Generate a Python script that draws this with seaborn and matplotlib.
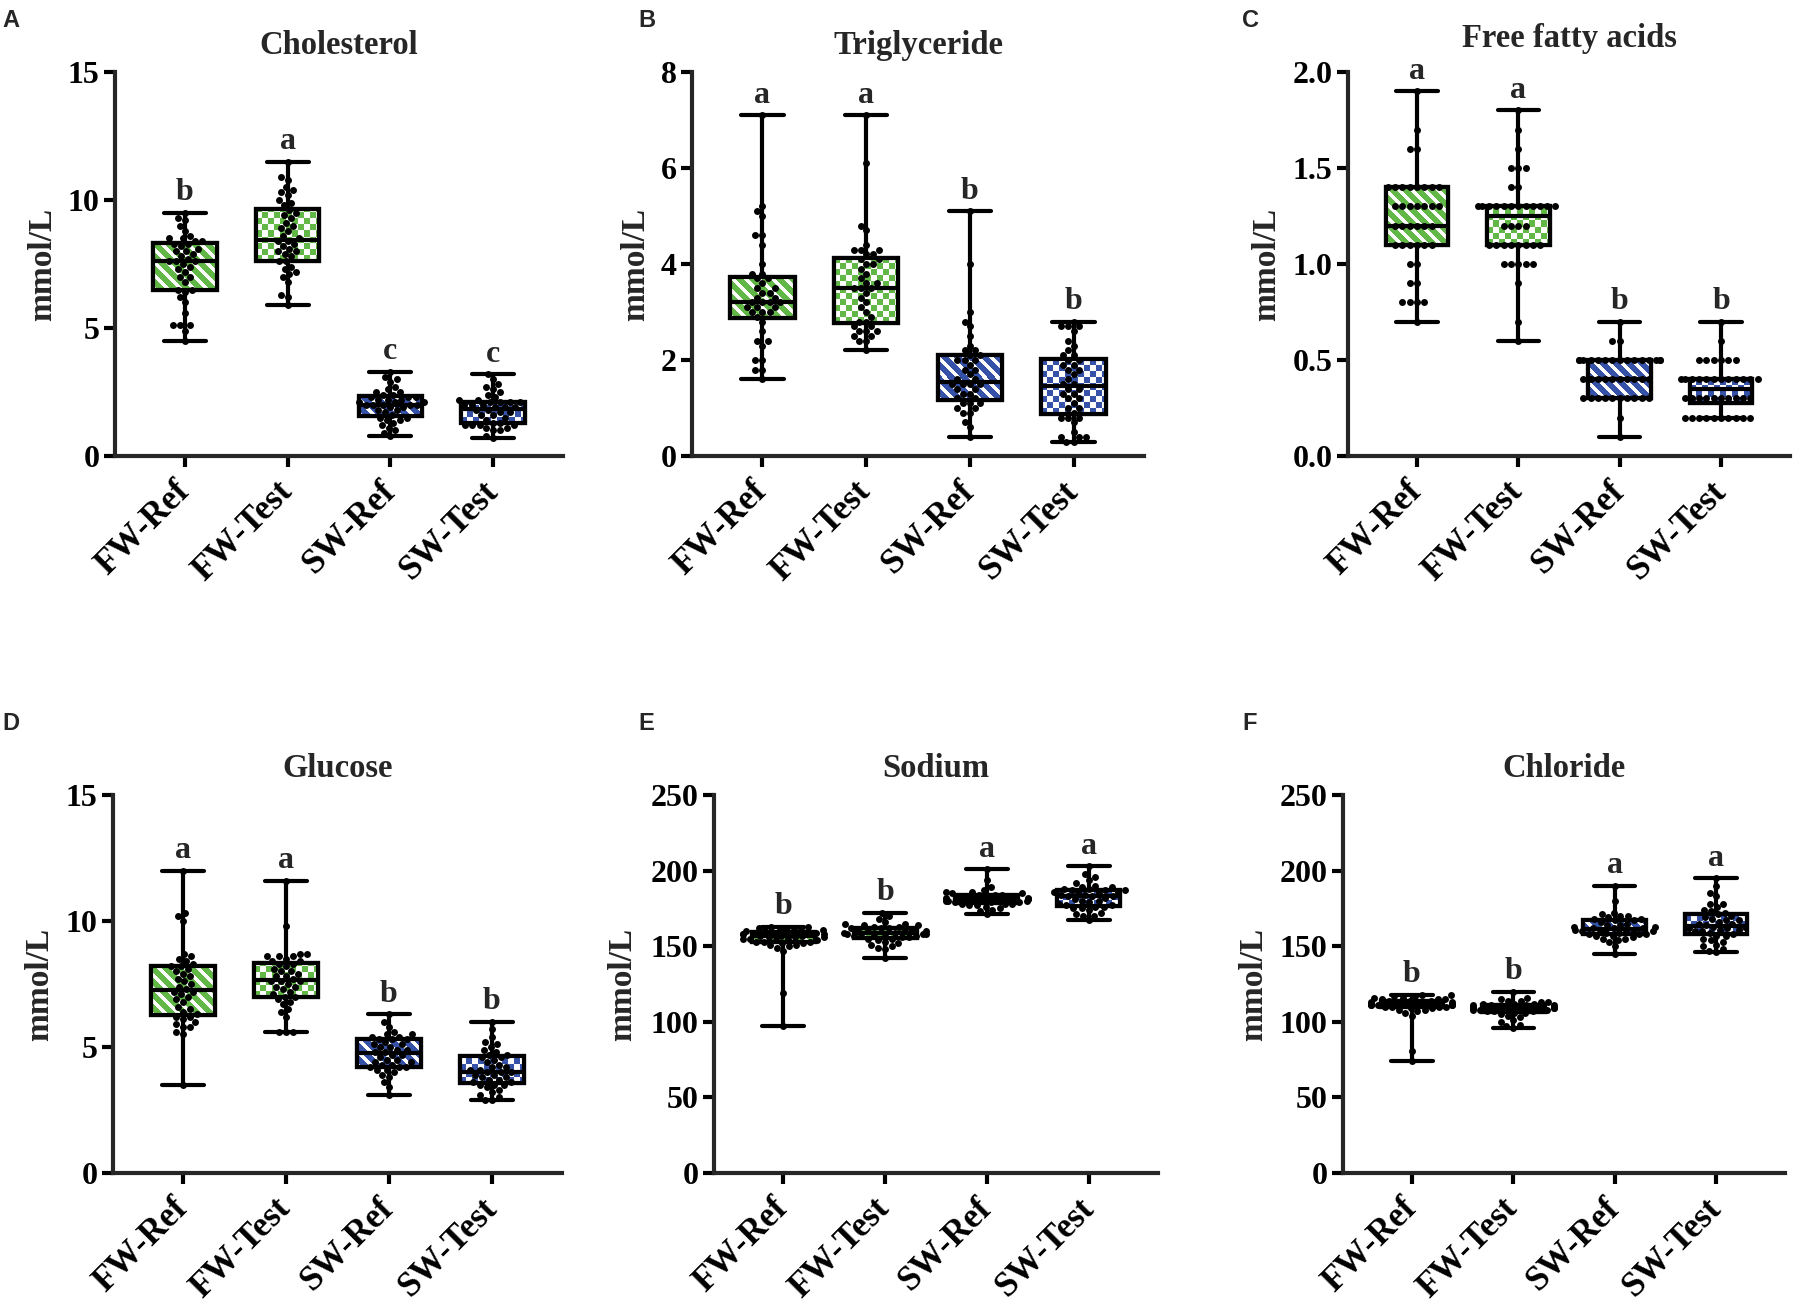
import numpy as np
import pandas as pd
import matplotlib
matplotlib.use("Agg")
import matplotlib.pyplot as plt
import seaborn as sns
from matplotlib.patches import PathPatch
from matplotlib.colors import ListedColormap
import warnings
warnings.filterwarnings("ignore")

# ---------------- data ----------------
groups = ["FW-Ref", "FW-Test", "SW-Ref", "SW-Test"]
GREEN = "#62b847"
BLUE = "#3552a8"
box_colors = [GREEN, GREEN, BLUE, BLUE]
patterns = ["stripe", "checker", "stripe", "checker"]

chol_fw_ref = [4.5, 4.9, 5.1, 5.1, 5.1, 5.6, 6.0, 6.2, 6.4, 6.5, 6.5, 6.8, 7.0, 7.0, 7.2, 7.3, 7.4, 7.5, 7.6, 7.6,
               7.6, 7.7, 7.8, 7.9, 8.0, 8.0, 8.1, 8.2, 8.3, 8.3, 8.4, 8.4, 8.5, 8.5, 8.6, 8.8, 9.0, 9.2, 9.3, 9.5]
chol_fw_test = [5.9, 6.2, 6.3, 6.8, 7.0, 7.1, 7.2, 7.3, 7.4, 7.6, 7.6, 7.8, 7.9, 8.0, 8.0, 8.1, 8.2, 8.3, 8.4, 8.4,
                8.5, 8.6, 8.8, 8.9, 9.0, 9.1, 9.3, 9.4, 9.5, 9.6, 9.8, 9.9, 10.0, 10.2, 10.3, 10.4, 10.5, 10.8, 10.9, 11.5]
chol_sw_ref = [0.8, 0.9, 1.0, 1.1, 1.2, 1.3, 1.4, 1.4, 1.5, 1.5, 1.6, 1.7, 1.8, 1.8, 1.9, 1.9, 2.0, 2.0, 2.0, 2.0,
               2.0, 2.1, 2.1, 2.1, 2.2, 2.2, 2.2, 2.3, 2.3, 2.3, 2.4, 2.4, 2.5, 2.5, 2.6, 2.7, 2.9, 3.0, 3.1, 3.3]
chol_sw_test = [0.7, 0.8, 1.0, 1.0, 1.1, 1.1, 1.2, 1.2, 1.2, 1.2, 1.3, 1.3, 1.4, 1.5, 1.6, 1.6, 1.7, 1.7, 1.8, 1.8,
                1.9, 1.9, 1.9, 2.0, 2.0, 2.0, 2.1, 2.1, 2.1, 2.1, 2.2, 2.2, 2.3, 2.4, 2.5, 2.6, 2.7, 2.8, 3.0, 3.2]

tg_fw_ref = [1.6, 1.8, 1.8, 2.0, 2.0, 2.3, 2.4, 2.4, 2.6, 2.8, 2.9, 3.0, 3.0, 3.0, 3.1, 3.1, 3.1, 3.2, 3.2, 3.2,
             3.2, 3.3, 3.3, 3.4, 3.4, 3.5, 3.5, 3.6, 3.7, 3.7, 3.8, 3.8, 4.0, 4.4, 4.6, 4.6, 5.0, 5.1, 5.2, 7.1]
tg_fw_test = [2.2, 2.4, 2.4, 2.5, 2.5, 2.6, 2.6, 2.6, 2.7, 2.7, 2.8, 2.8, 2.9, 3.0, 3.1, 3.2, 3.3, 3.4, 3.5, 3.5,
              3.5, 3.6, 3.6, 3.7, 3.8, 3.9, 4.0, 4.0, 4.1, 4.1, 4.2, 4.2, 4.3, 4.3, 4.3, 4.4, 4.7, 4.8, 6.1, 7.1]
tg_sw_ref = [0.4, 0.6, 0.7, 0.9, 0.9, 1.0, 1.0, 1.1, 1.1, 1.1, 1.2, 1.2, 1.3, 1.3, 1.4, 1.4, 1.5, 1.5, 1.5, 1.5,
             1.6, 1.6, 1.7, 1.8, 1.8, 1.9, 2.0, 2.0, 2.0, 2.1, 2.1, 2.2, 2.2, 2.3, 2.5, 2.7, 2.8, 3.0, 4.0, 5.1]
tg_sw_test = [0.3, 0.3, 0.4, 0.4, 0.4, 0.5, 0.7, 0.8, 0.8, 0.8, 0.9, 1.0, 1.0, 1.1, 1.2, 1.2, 1.3, 1.3, 1.4, 1.4,
              1.5, 1.5, 1.6, 1.7, 1.8, 1.8, 1.9, 1.9, 2.0, 2.0, 2.1, 2.1, 2.2, 2.3, 2.4, 2.6, 2.7, 2.7, 2.7, 2.8]

ffa_fw_ref = [0.7, 0.8, 0.8, 0.8, 0.8, 0.9, 0.9, 1.0, 1.0, 1.1, 1.1, 1.1, 1.1, 1.1, 1.1, 1.2, 1.2, 1.2, 1.2, 1.2,
              1.2, 1.3, 1.3, 1.3, 1.3, 1.3, 1.3, 1.3, 1.4, 1.4, 1.4, 1.4, 1.4, 1.4, 1.4, 1.4, 1.6, 1.6, 1.7, 1.9]
ffa_fw_test = [0.6, 0.7, 0.9, 1.0, 1.0, 1.0, 1.0, 1.0, 1.1, 1.1, 1.1, 1.1, 1.1, 1.1, 1.1, 1.1, 1.2, 1.2, 1.2, 1.2,
               1.3, 1.3, 1.3, 1.3, 1.3, 1.3, 1.3, 1.3, 1.3, 1.3, 1.3, 1.3, 1.4, 1.4, 1.5, 1.5, 1.5, 1.6, 1.7, 1.8]
ffa_sw_ref = [0.1, 0.2, 0.3, 0.3, 0.3, 0.3, 0.3, 0.3, 0.3, 0.3, 0.3, 0.3, 0.4, 0.4, 0.4, 0.4, 0.4, 0.4, 0.4, 0.4,
              0.4, 0.4, 0.5, 0.5, 0.5, 0.5, 0.5, 0.5, 0.5, 0.5, 0.5, 0.5, 0.5, 0.5, 0.5, 0.5, 0.5, 0.6, 0.6, 0.7]
ffa_sw_test = [0.2, 0.2, 0.2, 0.2, 0.2, 0.2, 0.2, 0.2, 0.2, 0.2, 0.3, 0.3, 0.3, 0.3, 0.3, 0.3, 0.3, 0.3, 0.3, 0.3,
               0.4, 0.4, 0.4, 0.4, 0.4, 0.4, 0.4, 0.4, 0.4, 0.4, 0.4, 0.4, 0.5, 0.5, 0.5, 0.5, 0.5, 0.5, 0.6, 0.7]

glu_fw_ref = [3.5, 5.5, 5.6, 5.8, 5.8, 5.9, 6.0, 6.1, 6.2, 6.2, 6.3, 6.4, 6.5, 6.6, 6.8, 6.9, 7.0, 7.1, 7.2, 7.2,
              7.3, 7.4, 7.5, 7.6, 7.7, 7.8, 7.9, 8.0, 8.1, 8.2, 8.2, 8.3, 8.4, 8.5, 8.6, 8.7, 10.0, 10.2, 10.3, 12.0]
glu_fw_test = [5.6, 5.6, 5.6, 6.2, 6.4, 6.5, 6.7, 6.8, 6.9, 7.0, 7.0, 7.1, 7.2, 7.3, 7.4, 7.4, 7.5, 7.6, 7.6, 7.6,
               7.7, 7.8, 7.8, 7.9, 8.0, 8.0, 8.1, 8.2, 8.3, 8.3, 8.4, 8.4, 8.5, 8.6, 8.6, 8.6, 8.7, 8.7, 9.8, 11.6]
glu_sw_ref = [3.1, 3.4, 3.6, 3.8, 3.9, 4.0, 4.1, 4.1, 4.2, 4.2, 4.2, 4.3, 4.3, 4.4, 4.4, 4.5, 4.5, 4.6, 4.7, 4.7,
              4.8, 4.8, 4.9, 4.9, 5.0, 5.0, 5.1, 5.1, 5.2, 5.3, 5.3, 5.3, 5.4, 5.4, 5.5, 5.5, 5.6, 5.8, 6.0, 6.3]
glu_sw_test = [2.9, 2.9, 3.0, 3.1, 3.2, 3.3, 3.4, 3.5, 3.5, 3.5, 3.6, 3.6, 3.7, 3.7, 3.8, 3.8, 3.9, 3.9, 4.0, 4.0,
               4.0, 4.1, 4.1, 4.2, 4.2, 4.3, 4.4, 4.5, 4.6, 4.6, 4.7, 4.7, 4.8, 4.9, 5.0, 5.1, 5.2, 5.4, 5.7, 6.0]

na_fw_ref = [97, 119, 147, 149, 150, 151, 151, 152, 152, 153, 153, 153, 154, 154, 155, 155, 155, 156, 156, 156,
             157, 157, 157, 158, 158, 158, 158, 159, 159, 159, 160, 160, 160, 161, 161, 162, 162, 162, 163, 163]
na_fw_test = [142, 148, 149, 150, 151, 152, 153, 154, 155, 155, 156, 156, 157, 157, 157, 158, 158, 158, 158, 158,
              159, 159, 160, 160, 160, 161, 161, 162, 162, 162, 163, 163, 164, 164, 165, 165, 166, 168, 170, 172]
na_sw_ref = [171, 173, 174, 175, 176, 177, 177, 178, 178, 178, 179, 179, 179, 180, 180, 180, 180, 180, 181, 181,
             181, 181, 182, 182, 182, 182, 183, 183, 183, 184, 184, 184, 185, 185, 186, 186, 187, 189, 194, 201]
na_sw_test = [167, 170, 170, 171, 172, 174, 175, 175, 176, 176, 177, 177, 178, 179, 180, 180, 181, 182, 183, 183,
              183, 184, 184, 185, 185, 186, 186, 187, 187, 187, 188, 188, 189, 189, 190, 192, 194, 196, 198, 203]

cl_fw_ref = [74, 81, 104, 106, 107, 108, 108, 109, 109, 110, 110, 110, 110, 111, 111, 111, 111, 111, 111, 112,
             112, 112, 112, 112, 113, 113, 113, 113, 114, 114, 114, 115, 115, 115, 116, 116, 117, 117, 118, 118]
cl_fw_test = [96, 97, 98, 100, 101, 103, 104, 105, 106, 106, 107, 107, 107, 108, 108, 108, 108, 109, 109, 109,
              109, 109, 110, 110, 110, 110, 111, 111, 111, 111, 112, 112, 112, 113, 113, 114, 114, 115, 116, 120]
cl_sw_ref = [145, 150, 153, 154, 155, 155, 156, 157, 157, 158, 158, 158, 159, 159, 160, 160, 160, 161, 161, 161,
             162, 162, 162, 163, 163, 164, 164, 165, 166, 167, 167, 168, 168, 169, 170, 170, 171, 172, 180, 190]
cl_sw_test = [146, 147, 148, 150, 151, 153, 154, 155, 157, 157, 158, 159, 160, 160, 161, 161, 162, 162, 163, 163,
              164, 165, 165, 166, 167, 167, 168, 169, 170, 171, 172, 173, 174, 176, 178, 178, 183, 185, 190, 195]

titles = ["Cholesterol", "Triglyceride", "Free fatty acids", "Glucose", "Sodium", "Chloride"]
panel_letters = ["A", "B", "C", "D", "E", "F"]
sig_letters = [["b", "a", "c", "c"], ["a", "a", "b", "b"], ["a", "a", "b", "b"],
               ["a", "a", "b", "b"], ["b", "b", "a", "a"], ["b", "b", "a", "a"]]
ylims = [(0, 15), (0, 8), (0, 2.0), (0, 15), (0, 250), (0, 250)]
yticks = [[0, 5, 10, 15], [0, 2, 4, 6, 8], [0.0, 0.5, 1.0, 1.5, 2.0],
          [0, 5, 10, 15], [0, 50, 100, 150, 200, 250], [0, 50, 100, 150, 200, 250]]
datasets = [[chol_fw_ref, chol_fw_test, chol_sw_ref, chol_sw_test],
            [tg_fw_ref, tg_fw_test, tg_sw_ref, tg_sw_test],
            [ffa_fw_ref, ffa_fw_test, ffa_sw_ref, ffa_sw_test],
            [glu_fw_ref, glu_fw_test, glu_sw_ref, glu_sw_test],
            [na_fw_ref, na_fw_test, na_sw_ref, na_sw_test],
            [cl_fw_ref, cl_fw_test, cl_sw_ref, cl_sw_test]]

# ---------------- layout ----------------
W, H = 1797, 1310
# (left px, top px, right px, bottom px)
axes_px = [(115, 72, 563, 456), (692, 72, 1144, 456), (1348, 72, 1790, 456),
           (113, 795, 562, 1173), (714, 795, 1158, 1173), (1343, 795, 1785, 1173)]
ylabel_x = [-0.128, -0.09, -0.15, -0.128, -0.172, -0.168]
title_pads = [13, 13, 18, 13, 13, 13]
letter_pos = [(2, 9), (638, 9), (1242, 9), (2, 712), (638, 712), (1242, 712)]

sns.set_style("ticks")
plt.rcParams["font.family"] = ["Liberation Serif", "DejaVu Serif"]
plt.rcParams["font.weight"] = "bold"
plt.rcParams["axes.linewidth"] = 3

fig = plt.figure(figsize=(W / 100, H / 100), dpi=100)


def texture(kind, nx, ny):
    ix = np.arange(nx)[None, :]
    iy = np.arange(ny)[:, None]
    if kind == "stripe":
        return (((ix + iy) % 13) < 5).astype(int)
    return (((ix // 6) + (iy // 6)) % 2).astype(int)


for k in range(6):
    l, t, r, b = axes_px[k]
    ax = fig.add_axes([l / W, 1 - b / H, (r - l) / W, (b - t) / H])
    data = datasets[k]
    df = pd.DataFrame({
        "group": np.repeat(groups, [len(v) for v in data]),
        "value": np.concatenate([np.asarray(v, dtype=float) for v in data]),
    })
    sns.boxplot(data=df, x="group", y="value", hue="group", order=groups, hue_order=groups,
                palette=dict(zip(groups, box_colors)), saturation=1, width=0.62,
                whis=(0, 100), linecolor="black", linewidth=3, legend=False,
                capwidths=0.41, ax=ax)
    ax.set_xlim(-0.68, 3.68)
    ax.set_ylim(*ylims[k])

    box_patches = [p for p in ax.patches if isinstance(p, PathPatch)]
    for p in box_patches:
        path = p.get_path()
        verts = path.vertices
        x0, x1 = verts[:, 0].min(), verts[:, 0].max()
        y0, y1 = verts[:, 1].min(), verts[:, 1].max()
        i = int(round((x0 + x1) / 2))
        (px0, py0), (px1, py1) = ax.transData.transform([(x0, y0), (x1, y1)])
        nx = max(1, int(round(abs(px1 - px0))))
        ny = max(1, int(round(abs(py1 - py0))))
        arr = texture(patterns[i], nx, ny)
        im = ax.imshow(arr, extent=(x0, x1, y0, y1), origin="lower",
                       cmap=ListedColormap([box_colors[i], "white"]), vmin=0, vmax=1,
                       aspect="auto", interpolation="nearest", zorder=2.3)
        im.set_clip_path(p)
        outline = PathPatch(path, transform=ax.transData, facecolor="none", edgecolor="black",
                            linewidth=3, zorder=2.5)
        ax.add_patch(outline)
    for ln in ax.lines:
        ln.set_zorder(2.6)

    sns.swarmplot(data=df, x="group", y="value", order=groups, color="black", size=5,
                  ax=ax, zorder=4, warn_thresh=1.0)

    ax.set_xlim(-0.68, 3.68)
    ax.set_ylim(*ylims[k])
    ax.set_yticks(yticks[k])
    if k == 2:
        ax.set_yticklabels([f"{v:.1f}" for v in yticks[k]])
    sns.despine(ax=ax)
    ax.spines["left"].set_linewidth(3)
    ax.spines["bottom"].set_linewidth(3)
    ax.tick_params(axis="both", width=3, length=8, direction="out", colors="black")
    ax.tick_params(axis="y", labelsize=23, pad=3)
    ax.tick_params(axis="x", labelsize=25, pad=14)
    ax.set_xticks(range(4))
    ax.set_xticklabels(groups)
    for lab in ax.get_xticklabels():
        lab.set_rotation(45)
        lab.set_ha("right")
        lab.set_va("center")
        lab.set_rotation_mode("anchor")
        lab.set_fontweight("bold")
    for lab in ax.get_yticklabels():
        lab.set_fontweight("bold")
    ax.set_xlabel("")
    ax.set_ylabel("mmol/L", fontsize=24, fontweight="bold")
    ax.yaxis.set_label_coords(ylabel_x[k], 0.5)
    ax.set_title(titles[k], fontsize=23.5, fontweight="bold", pad=title_pads[k])

    for i in range(4):
        ax.annotate(sig_letters[k][i], xy=(i, max(data[i])), xytext=(0, 4),
                    textcoords="offset points", ha="center", va="bottom",
                    fontsize=23, fontweight="bold")

    lx, ly = letter_pos[k]
    fig.text(lx / W, 1 - ly / H, panel_letters[k], fontsize=17, fontweight="bold",
             family=["Liberation Sans", "DejaVu Sans"], ha="left", va="top")

fig.savefig("out.png", dpi=100)
